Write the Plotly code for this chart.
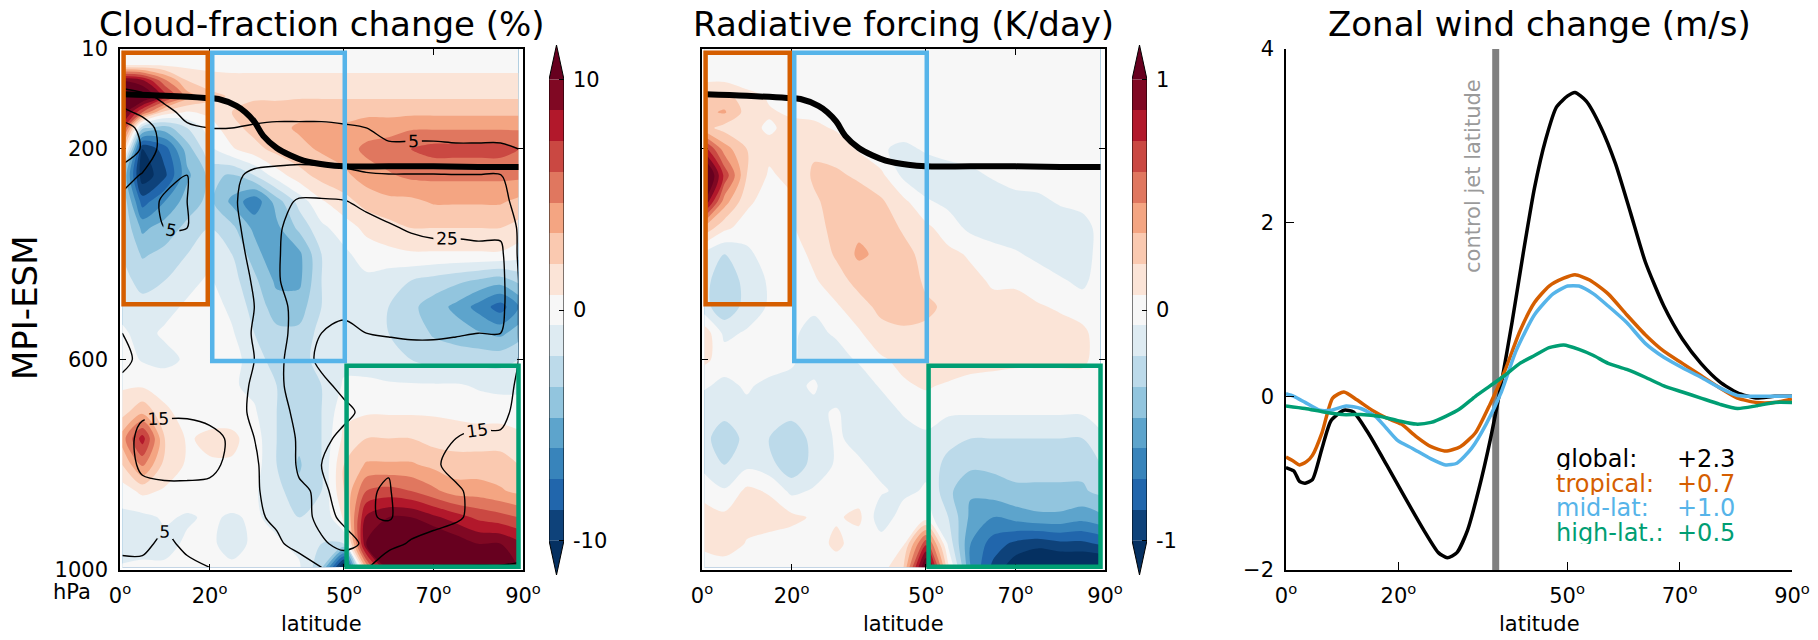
import plotly.graph_objects as go

W, H = 1818, 640

# ---------------- data ----------------
lat_grid = [0.5, 5, 10, 15, 20, 25, 30, 35, 40, 45, 50, 55, 60, 65, 70, 75, 80, 85, 89]
p_grid = [10, 40, 70, 100, 130, 160, 200, 250, 300, 350, 400, 450, 500, 550, 600,
          650, 700, 750, 800, 850, 900, 950, 995]

# cloud-fraction change (%)
cloud_change = [
    [0.3, 0.2, 0.2, 0.2, 0.1, 0.1, 0.1, 0.1, 0.1, 0.1, 0.1, 0.1, 0.1, 0.1, 0.1, 0.1, 0.1, 0.1, 0.1],
    [0.6, 0.5, 0.4, 0.3, 0.3, 0.3, 0.3, 0.3, 0.3, 0.3, 0.3, 0.3, 0.3, 0.3, 0.3, 0.3, 0.3, 0.3, 0.3],
    [10, 9, 5, 2, 1.2, 1, 1, 1, 1, 1, 1, 1, 1, 1, 1, 1, 1, 1, 1],
    [13, 12, 8, 4, 2.5, 1.8, 1.8, 1.8, 1.8, 1.8, 1.8, 1.8, 1.8, 1.8, 1.8, 1.8, 1.8, 1.8, 1.8],
    [11, 6, 1.5, 0.5, 1, 2, 2.5, 2.5, 3, 3, 3, 3, 3, 3, 3, 3, 3, 3, 3],
    [8, -3, -4, -2, 0, 1.5, 2.5, 3, 3.5, 3.5, 3.5, 4, 4, 4.5, 4.5, 4.5, 4.5, 4.5, 4.5],
    [3, -10, -8, -4, -1, 0.5, 1.5, 2.5, 3, 3.5, 4, 5, 5.5, 6, 6.5, 6.5, 6.5, 6.5, 6],
    [-3, -11, -9, -5, -3, -3.5, -2, 0, 1.5, 2.5, 3, 4, 4.5, 5, 5, 5, 5, 5, 5],
    [-2, -8, -6, -4, -3, -5, -7, -4, -1.5, 0.5, 1.5, 2.5, 3, 3, 3.5, 3.5, 3.5, 3.5, 3],
    [-2, -5, -4, -3, -2, -3, -5, -5, -3, -1, 0, 1, 1.5, 2, 2, 2, 2, 2, 1.5],
    [-2, -3.5, -3, -2, -1, -2, -4, -6, -5, -2, -1, 0, 0.3, 0.5, 0.5, 0.5, 0.5, 0.5, 0],
    [-1.5, -2.5, -2, -1, -0.5, -1.5, -3, -5, -5, -2, -1.5, -1, -1.5, -2, -2.5, -3, -3.5, -4, -3],
    [-1, -1.5, -1, -0.5, 0, -1, -2.5, -4, -4, -2, -1.5, -1.5, -2, -3, -4, -5, -6.5, -8, -6],
    [-0.5, -1, -0.5, 0, 0, -0.5, -2, -3, -3, -1.5, -1, -1.5, -2, -2.5, -3.5, -4, -4.5, -5, -4],
    [0, -0.8, -1, -0.5, 0, 0, -1.5, -2.5, -2.5, -1.5, -1, -1, -1.5, -2, -2.5, -2.5, -2.5, -2.5, -2],
    [0.5, 0.5, 0, 0, 0, -0.5, -1, -2, -2.5, -2, -0.5, -0.5, -0.5, -0.5, -0.5, -0.5, -0.8, -1, -1],
    [1.5, 3, 1, 0, 0, 0, -0.5, -2, -2.5, -2, 0.3, 0.5, 0.5, 0.5, 0.5, 0.3, 0, 0, 0],
    [4, 8, 2, 0.5, 1, 1, 0, -2, -3, -2, 1, 2, 2, 2, 1.5, 1.5, 1.5, 1.5, 1],
    [2, 5, 1.5, 0.5, 0.5, 0.5, 0, -2, -3.5, -2, 2, 3.5, 3.5, 3.5, 3, 2.5, 2.5, 2.5, 2],
    [0, 1, 0.5, 0, 0, 0, -0.5, -1.5, -3, -2, 2, 6, 6.5, 6, 5, 4, 4, 3.5, 3],
    [-1, -1, -0.5, -0.8, -0.5, -0.8, -0.5, -1, -2, -2, 1, 9, 10, 10, 9, 8, 7, 6.5, 6],
    [-1.5, -1, -1, -0.5, -0.5, -1, -0.5, -0.5, -1, -2, -2, 10, 12, 12, 12, 11, 10, 10, 9],
    [-0.5, -0.5, -0.5, -0.5, -0.5, -0.5, -0.5, -0.5, -0.5, -3, -12, 4, 11, 12, 12, 12, 11, 11, 10],
]

# control cloud fraction (%), drawn as black contour lines
cloud_ctrl = [
    [0] * 19,
    [0.5] * 19,
    [2, 2, 1.5, 1, 1, 1, 1, 1, 1, 1, 1, 1, 1, 1, 1, 1, 1, 1, 1],
    [8, 6, 4, 3.5, 3, 2.5, 2.5, 2.5, 2.5, 2.5, 2.5, 2.5, 2.5, 2.5, 2.5, 2.5, 2.5, 2.5, 2.5],
    [18, 12, 6, 4, 3.5, 3.5, 3.5, 3.5, 3.5, 3.5, 3.5, 3, 3, 3, 3, 3, 3, 3, 3],
    [30, 22, 9, 5.5, 5, 5, 5.5, 6, 6, 6, 5.5, 5, 4.5, 4.5, 4.5, 4.5, 4.5, 4.5, 4],
    [32, 24, 10, 7, 8, 9, 9, 9.5, 10, 10, 10, 7, 5.3, 5.3, 5.3, 5.2, 5.2, 5.2, 5],
    [20, 14, 7, 5, 7, 13, 17, 18, 18.5, 18, 17, 16, 15.5, 15.5, 15.5, 15.3, 15.3, 15.2, 12],
    [12, 8, 4, 5, 9, 14, 18, 22, 26, 26, 25.5, 23, 21, 19, 18, 18, 18, 18, 12],
    [8, 6, 5, 5, 8, 13, 18, 24, 28, 30, 30, 28, 26, 24, 23, 23, 23, 23, 14],
    [6, 5.5, 5.5, 5.5, 7, 12, 17, 24, 30, 32, 32, 31, 30, 29, 28, 28, 27, 27, 14],
    [5.5, 5.5, 5.5, 5.5, 6, 10, 16, 24, 30, 30, 30, 30, 30, 30, 29, 29, 28, 28, 15],
    [5.5, 5.5, 5.5, 5.5, 6, 9, 15, 23, 27, 27, 26, 27, 28, 28, 28, 28, 28, 28, 15],
    [5, 5.5, 5.5, 5.5, 6, 9, 16, 23, 27, 25, 24, 25, 25.5, 26, 26, 25.5, 25, 25, 15],
    [4, 6, 6, 6, 6, 9, 15, 24, 27, 24, 22, 22, 22, 22, 22, 22, 22, 22, 15],
    [6, 7, 8, 8, 9, 12, 16, 24, 27, 26, 24, 22, 20, 19, 18, 18, 18, 18, 14],
    [10, 14, 14, 14, 13, 13, 16, 22, 27, 27, 26, 24, 22, 20, 19, 18, 17, 17, 13],
    [12, 17, 18, 18, 17, 14, 15, 20, 26, 26, 24, 24, 22, 19, 17, 15, 14, 14, 12],
    [10, 17, 18, 18, 17, 13, 14, 19, 26, 25, 23, 24, 24, 19, 16, 13, 12, 12, 11],
    [8, 12, 13, 13, 13, 14, 14, 18, 24, 26, 23, 24, 26, 17, 16, 16, 13, 13, 11],
    [6, 7, 6, 7, 9, 12, 14, 16, 22, 27, 24, 24, 26, 20, 18, 16, 13, 13, 11],
    [6, 6, 4, 6, 7, 9, 12, 14, 17, 24, 27, 24, 18, 14, 12, 11, 10, 10, 9],
    [4, 4, 4, 4, 5, 6, 8, 10, 12, 15, 20, 16, 8, 6, 4.5, 4.5, 4.5, 4.5, 4],
]

# radiative forcing (K/day)
rad_forcing = [
    [0] * 19,
    [0] * 19,
    [0.05, 0.05, 0, 0, 0, 0, 0, 0, 0, 0, 0, 0, 0, 0, 0, 0, 0, 0, 0],
    [0.2, 0.25, 0.12, 0.05, 0, 0, 0, 0, 0, 0, 0, 0, 0, 0, 0, 0, 0, 0, 0],
    [0.3, 0.35, 0.15, 0.08, 0.05, 0.03, 0, 0, 0, 0, 0, 0, 0, 0, 0, 0, 0, 0, 0],
    [0.25, 0.15, 0.1, 0.05, 0.1, 0.1, 0.05, 0, 0, 0, 0, 0, 0, 0, 0, 0, 0, 0, 0],
    [0.8, 0.4, 0.2, 0.1, 0.15, 0.18, 0.15, 0.05, -0.05, -0.1, -0.05, 0, 0, 0, 0, 0, 0, 0, 0],
    [1.3, 0.7, 0.2, 0.05, 0.1, 0.22, 0.22, 0.18, 0.1, -0.1, -0.15, -0.15, -0.1, -0.05, 0, 0, 0, 0, 0],
    [1.0, 0.4, 0.1, 0, 0.05, 0.18, 0.25, 0.26, 0.22, 0.1, -0.05, -0.1, -0.15, -0.15, -0.12, -0.1, -0.05, 0, 0],
    [0.3, 0.1, 0, 0, 0.05, 0.14, 0.25, 0.3, 0.28, 0.18, 0.1, 0, -0.1, -0.15, -0.15, -0.15, -0.15, -0.15, 0],
    [-0.1, -0.2, -0.1, 0, 0, 0.1, 0.22, 0.36, 0.3, 0.25, 0.15, 0.1, 0.05, 0, -0.05, -0.1, -0.15, -0.15, 0],
    [-0.15, -0.3, -0.15, -0.05, 0, 0.05, 0.14, 0.25, 0.28, 0.27, 0.18, 0.15, 0.1, 0.05, 0.05, 0, -0.05, -0.1, 0],
    [-0.15, -0.3, -0.15, -0.05, 0, -0.05, 0.05, 0.14, 0.24, 0.25, 0.22, 0.18, 0.15, 0.1, 0.1, 0.08, 0.05, 0, 0],
    [0.15, -0.1, -0.05, 0, -0.05, -0.1, -0.05, 0.05, 0.15, 0.18, 0.18, 0.18, 0.15, 0.15, 0.15, 0.12, 0.12, 0.1, 0],
    [0.1, 0, 0, 0, -0.05, -0.12, -0.12, -0.05, 0.05, 0.1, 0.15, 0.15, 0.15, 0.12, 0.1, 0.1, 0.1, 0.1, 0],
    [-0.05, -0.1, -0.05, -0.1, -0.1, -0.05, -0.15, -0.15, -0.05, 0.05, 0.08, 0.05, 0, 0, 0, 0, 0, 0, 0],
    [-0.15, -0.15, -0.1, -0.12, -0.15, -0.1, -0.05, -0.15, -0.15, -0.05, 0, -0.05, -0.05, -0.05, -0.05, -0.05, -0.05, -0.05, 0],
    [-0.15, -0.3, -0.15, -0.2, -0.3, -0.15, -0.05, -0.1, -0.15, -0.15, -0.1, -0.15, -0.2, -0.2, -0.2, -0.2, -0.2, -0.2, -0.1],
    [-0.1, -0.2, -0.1, -0.15, -0.3, -0.15, -0.05, -0.05, -0.1, -0.15, -0.1, -0.25, -0.3, -0.3, -0.3, -0.3, -0.3, -0.3, -0.2],
    [0, -0.05, 0.1, 0.05, -0.1, -0.05, 0, 0, -0.05, -0.1, -0.05, -0.3, -0.45, -0.4, -0.35, -0.35, -0.35, -0.35, -0.3],
    [0.15, 0.1, 0.15, 0.15, 0.1, 0.05, 0.05, 0.1, -0.15, 0, 0, -0.2, -0.5, -0.6, -0.55, -0.5, -0.5, -0.55, -0.5],
    [0.1, 0.2, 0.05, 0, 0, 0, 0.1, 0, 0, 0.05, 0.7, -0.1, -0.6, -0.8, -0.9, -0.95, -0.9, -0.9, -0.85],
    [0, -0.05, 0, 0, 0, 0, 0, -0.05, 0, 0.2, 1.2, 0.1, -0.6, -0.9, -1.1, -1.2, -1.2, -1.2, -1.2],
]

# control tropopause (hPa)
trop_lat = [0.8, 10, 19, 22, 26, 28, 30, 32, 35, 38, 41, 46, 50, 60, 70, 80, 89]
trop_p = [96, 99, 103, 105, 118, 130, 148, 175, 198, 212, 222, 230, 233, 233, 233, 234, 234]

# regions: tropical, mid-lat, high-lat
box_names = ["tropical", "mid-lat", "high-lat."]
box_lat = [[0.8, 19.6], [20.6, 50.2], [50.6, 89.0]]
box_p = [[17, 495], [17, 603], [612, 994]]

# zonal wind change (m/s)
lat_global = [0, 1.4, 2.4, 3.4, 4.7, 6.4, 8.0, 10.3, 12, 14.6, 17.9, 21.2, 24.5, 27.1, 28.7, 30.4,
              32.3, 34.3, 36.3, 38.3, 40.2, 42.2, 44.2, 46.2, 48.1, 50.1, 51.4, 53.4, 56, 58.6,
              61.3, 63.9, 67.2, 70.5, 73.8, 77.1, 80.3, 83.6, 86.9, 90]
u_global = [-0.82, -0.86, -0.98, -1.0, -0.96, -0.6, -0.28, -0.16, -0.18, -0.42, -0.79, -1.17,
            -1.54, -1.8, -1.86, -1.8, -1.54, -1.07, -0.51, 0.15, 0.85, 1.65, 2.4, 2.96, 3.33,
            3.46, 3.5, 3.4, 3.1, 2.68, 2.11, 1.55, 1.04, 0.66, 0.38, 0.17, 0.04, -0.02, 0.0, 0.0]
lat_tropical = [0, 1.4, 2.4, 3.7, 4.7, 6.4, 8.3, 10.3, 12.6, 15.3, 17.9, 20.5, 23.1, 25.8, 28.4,
                31, 33.7, 36.3, 38.9, 41.6, 44.2, 46.8, 49.4, 51.4, 54, 57.3, 60.6, 63.9, 67.2,
                70.5, 73.8, 77.1, 80.3, 83.6, 86.9, 90]
u_tropical = [-0.70, -0.75, -0.79, -0.75, -0.68, -0.42, -0.02, 0.05, -0.04, -0.16, -0.25, -0.32,
              -0.46, -0.58, -0.63, -0.58, -0.42, -0.09, 0.29, 0.75, 1.08, 1.27, 1.36, 1.40, 1.34,
              1.18, 0.94, 0.71, 0.52, 0.38, 0.24, 0.10, -0.02, -0.07, -0.07, -0.03]
lat_midlat = [0, 1.4, 3.4, 6, 8, 10.7, 13.3, 15.9, 17.9, 19.9, 22.5, 25.8, 28.4, 30.4, 33, 35.6,
              38.3, 40.9, 44.2, 47.5, 50.1, 52.1, 54.7, 57.3, 60.6, 63.9, 67.2, 70.5, 73.8, 77.1,
              80.3, 83.6, 86.9, 90]
u_midlat = [0.03, 0.0, -0.07, -0.16, -0.16, -0.11, -0.14, -0.23, -0.37, -0.51, -0.60, -0.72,
            -0.79, -0.77, -0.60, -0.32, 0.05, 0.52, 0.94, 1.18, 1.27, 1.27, 1.18, 1.04, 0.85,
            0.61, 0.45, 0.33, 0.22, 0.10, 0.01, 0.0, 0.0, 0.0]
lat_highlat = [0, 3.4, 6.7, 10, 13.3, 16.6, 19.9, 23.1, 25.8, 28.4, 31, 33.7, 36.3, 38.9, 41.6,
               44.2, 46.8, 49.4, 52.1, 54.7, 57.3, 60.6, 63.9, 67.2, 70.5, 73.8, 77.1, 80.3,
               83.6, 86.9, 90]
u_highlat = [-0.11, -0.14, -0.18, -0.21, -0.21, -0.23, -0.28, -0.32, -0.30, -0.23, -0.14, 0.0,
             0.12, 0.24, 0.38, 0.47, 0.56, 0.59, 0.54, 0.47, 0.38, 0.31, 0.22, 0.12, 0.05,
             -0.02, -0.09, -0.14, -0.11, -0.07, -0.07]
jet_lat = 37.3

legend_labels = ["global:", "tropical:", "mid-lat:", "high-lat.:"]
legend_values = ["+2.3", "+0.7", "+1.0", "+0.5"]

lat_ticks = [0, 20, 50, 70, 90]
p_ticks = [10, 200, 600, 1000]
u_ticks = [-2, 0, 2, 4]

# ---------------- styling helpers ----------------
FONT = "DejaVu Sans"
C_BLACK, C_ORANGE, C_BLUE, C_GREEN = "#000000", "#D55E00", "#56B4E9", "#009E73"
box_colors = [C_ORANGE, C_BLUE, C_GREEN]
series_colors = [C_BLACK, C_ORANGE, C_BLUE, C_GREEN]

RDBU = [(5, 48, 97), (33, 102, 172), (67, 147, 195), (146, 197, 222), (209, 229, 240),
        (247, 247, 247), (253, 219, 199), (244, 165, 130), (214, 96, 77), (178, 24, 43),
        (103, 0, 31)]


def rdbu_r(t):
    t = min(max(t, 0.0), 1.0)
    s = t * 10
    i = min(int(s), 9)
    f = s - i
    a, b = RDBU[i], RDBU[i + 1]
    return "rgb(%d,%d,%d)" % tuple(round(a[k] + (b[k] - a[k]) * f) for k in range(3))


NB = 15
band_colors = [rdbu_r((2 * k + 1) / (2 * NB)) for k in range(NB)]
under_c, over_c = rdbu_r(0), rdbu_r(1)
contour_scale = [[0, under_c]] + [[(k + 1) / (NB + 1), band_colors[k]] for k in range(NB)] + [[1, over_c]]
step_scale = []
for k in range(NB):
    step_scale += [[k / NB, band_colors[k]], [(k + 1) / NB, band_colors[k]]]


def fx(px):
    return px / W


def fy(py):
    return 1 - py / H


P1, P2, P3 = (120, 523), (702, 1105), (1286, 1792)
TOP, BOT = 49, 570
CB1, CB2 = (549, 564), (1132, 1147)
CB_TOP, CB_BOT = 45, 575

deg_text = ["%d<sup>o</sup>" % v for v in lat_ticks]

fig = go.Figure()

# -------- panel 1 & 2 filled contours --------
for field, vmax, xa, ya in [(cloud_change, 10, "x", "y"), (rad_forcing, 1, "x2", "y2")]:
    fig.add_trace(go.Contour(
        x=lat_grid, y=p_grid, z=field, xaxis=xa, yaxis=ya,
        autocontour=False,
        contours=dict(start=-vmax, end=vmax, size=2 * vmax / NB, coloring="fill", showlines=False),
        colorscale=contour_scale, line=dict(width=0, smoothing=0.9),
        showscale=False, hoverinfo="skip"))

# control cloud fraction contours
fig.add_trace(go.Contour(
    x=lat_grid, y=p_grid, z=cloud_ctrl, xaxis="x", yaxis="y",
    autocontour=False,
    contours=dict(start=5, end=25, size=10, coloring="none", showlabels=True,
                  labelfont=dict(size=17, color="black", family=FONT)),
    line=dict(color="black", width=1.4, smoothing=0.9),
    showscale=False, hoverinfo="skip"))

# tropopause
for xa, ya in [("x", "y"), ("x2", "y2")]:
    fig.add_trace(go.Scatter(x=trop_lat, y=trop_p, xaxis=xa, yaxis=ya, mode="lines",
                             line=dict(color="black", width=6, shape="spline"),
                             hoverinfo="skip"))

# -------- panel 3 lines --------
for lx, ly, col in [(lat_global, u_global, C_BLACK), (lat_tropical, u_tropical, C_ORANGE),
                    (lat_midlat, u_midlat, C_BLUE), (lat_highlat, u_highlat, C_GREEN)]:
    fig.add_trace(go.Scatter(x=lx, y=ly, xaxis="x3", yaxis="y3", mode="lines",
                             line=dict(color=col, width=3.5, shape="spline", smoothing=0.6),
                             hoverinfo="skip"))

# -------- colorbars --------
for vmax, xa, ya in [(10, "x4", "y4"), (1, "x5", "y5")]:
    step = 2 * vmax / NB
    centers = [-vmax + step * (k + 0.5) for k in range(NB)]
    fig.add_trace(go.Heatmap(x=[0], y=centers, z=[[c] for c in centers], xaxis=xa, yaxis=ya,
                             colorscale=step_scale, zmin=-vmax, zmax=vmax, showscale=False,
                             hoverinfo="skip"))
    tip = vmax * 1.15
    fig.add_trace(go.Scatter(x=[-0.5, 0.5, 0, -0.5], y=[vmax, vmax, tip, vmax], xaxis=xa, yaxis=ya,
                             mode="lines", fill="toself", fillcolor=over_c,
                             line=dict(width=0, color=over_c), hoverinfo="skip"))
    fig.add_trace(go.Scatter(x=[-0.5, 0.5, 0, -0.5], y=[-vmax, -vmax, -tip, -vmax], xaxis=xa, yaxis=ya,
                             mode="lines", fill="toself", fillcolor=under_c,
                             line=dict(width=0, color=under_c), hoverinfo="skip"))
    fig.add_trace(go.Scatter(x=[-0.5, -0.5, 0, 0.5, 0.5, 0, -0.5],
                             y=[-vmax, vmax, tip, vmax, -vmax, -tip, -vmax], xaxis=xa, yaxis=ya,
                             mode="lines", line=dict(color="black", width=1), hoverinfo="skip"))

# -------- shapes --------
shapes = []
for xr, yr in [("x", "y"), ("x2", "y2")]:
    for (la, lb), (pa, pb), col in zip(box_lat, box_p, box_colors):
        shapes.append(dict(type="rect", xref=xr, yref=yr, x0=la, x1=lb, y0=pa, y1=pb,
                           line=dict(color=col, width=4.5), fillcolor="rgba(0,0,0,0)",
                           layer="above"))
shapes.append(dict(type="line", xref="x3", yref="y3", x0=jet_lat, x1=jet_lat, y0=-2, y1=4,
                   line=dict(color="#808080", width=7), layer="below"))

# -------- axes --------
tickfont = dict(size=21, color="black", family=FONT)


def box_axis(domain, **kw):
    d = dict(domain=domain, showgrid=False, zeroline=False, showline=True, linecolor="black",
             linewidth=1.5, mirror="ticks", ticks="inside", ticklen=6, tickwidth=1.2,
             tickcolor="black", tickfont=tickfont, automargin=False)
    d.update(kw)
    return d


ydom = [fy(BOT), fy(TOP)]
layout = dict(
    template="none",
    width=W, height=H, margin=dict(l=0, r=0, t=0, b=0, pad=0, autoexpand=False),
    paper_bgcolor="white", plot_bgcolor="white", showlegend=False,
    font=dict(family=FONT, color="black"),
    xaxis=box_axis([fx(P1[0]), fx(P1[1])], range=[0, 90], anchor="y", tickvals=lat_ticks,
                   ticktext=deg_text, ticklabelstandoff=6),
    yaxis=box_axis(ydom, range=[1000, 10], anchor="x", tickvals=p_ticks,
                   ticktext=[str(v) for v in p_ticks], ticklabelstandoff=6),
    xaxis2=box_axis([fx(P2[0]), fx(P2[1])], range=[0, 90], anchor="y2", tickvals=lat_ticks,
                    ticktext=deg_text, ticklabelstandoff=6),
    yaxis2=box_axis(ydom, range=[1000, 10], anchor="x2", tickvals=p_ticks, showticklabels=False),
    xaxis3=dict(domain=[fx(P3[0]), fx(P3[1])], range=[0, 90], anchor="y3", tickvals=lat_ticks,
                ticktext=deg_text, showgrid=False, zeroline=False, showline=True,
                linecolor="black", linewidth=1.5, ticks="inside", ticklen=8, tickcolor="black",
                tickfont=tickfont, ticklabelstandoff=6, automargin=False),
    yaxis3=dict(domain=ydom, range=[-2, 4], anchor="x3", tickvals=u_ticks,
                ticktext=["\u22122", "0", "2", "4"], showgrid=False, zeroline=False,
                showline=True, linecolor="black", linewidth=1.5, ticks="inside", ticklen=8,
                tickcolor="black", tickfont=tickfont, ticklabelstandoff=6, automargin=False),
)
for i, (cb, vmax) in enumerate([(CB1, 10), (CB2, 1)]):
    n = 4 + i
    tip = vmax * 1.15
    layout["xaxis%d" % n] = dict(domain=[fx(cb[0]), fx(cb[1])], range=[-0.5, 0.5],
                                 anchor="y%d" % n, visible=False, automargin=False)
    layout["yaxis%d" % n] = dict(domain=[fy(CB_BOT), fy(CB_TOP)], range=[-tip, tip],
                                 anchor="x%d" % n, side="right", tickvals=[-vmax, 0, vmax],
                                 ticktext=["-%g" % vmax, "0", "%g" % vmax], ticks="inside",
                                 ticklen=5, tickcolor="black", showgrid=False, zeroline=False,
                                 showline=False, tickfont=tickfont, ticklabelstandoff=8,
                                 automargin=False)

# -------- annotations --------
ann = []


def text(px, py, s, size, color="black", angle=0, xanchor="center", height=None):
    d = dict(x=fx(px), y=fy(py), xref="paper", yref="paper", text=s, showarrow=False,
             font=dict(size=size, color=color, family=FONT), textangle=angle,
             xanchor=xanchor, yanchor="middle", borderpad=0)
    if height:
        d["height"] = height
    ann.append(d)


for (a, b), t in zip([P1, P2, P3], ["Cloud-fraction change (%)", "Radiative forcing (K/day)",
                                    "Zonal wind change (m/s)"]):
    text((a + b) / 2, 24, t, 34)
    text((a + b) / 2, 624, "latitude", 21)
text(25, 308, "MPI-ESM", 34, angle=-90)
text(72, 592, "hPa", 21)
text(1473, 176, "control jet latitude", 21, color="#9a9a9a", angle=-90)
for i, (lab, val, col) in enumerate(zip(legend_labels, legend_values, series_colors)):
    y = 459 + i * 24.7
    text(1555, y, lab, 24, color=col, xanchor="left", height=22)
    text(1676, y, val, 24, color=col, xanchor="left", height=22)

layout["shapes"] = shapes
layout["annotations"] = ann
fig.update_layout(**layout)
fig.write_html("out.html")
